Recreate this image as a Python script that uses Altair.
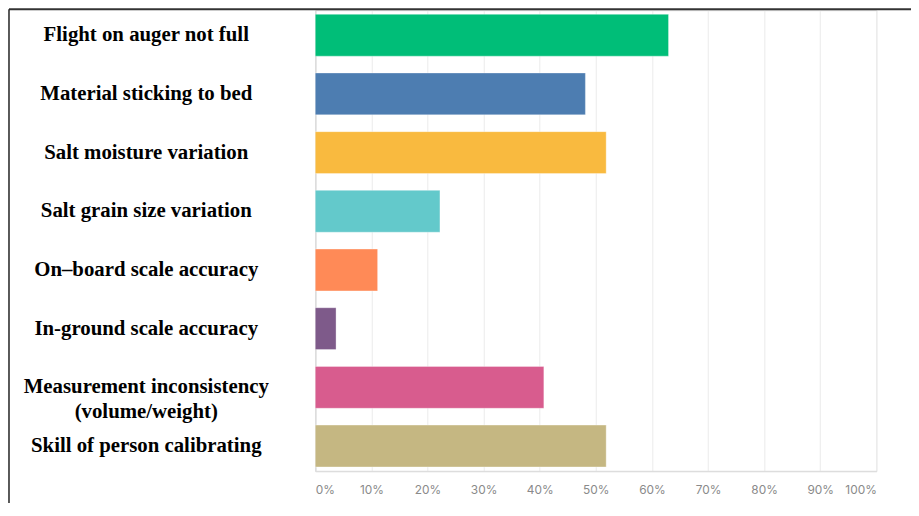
import altair as alt
import pandas as pd

categories = [
    "Flight on auger not full",
    "Material sticking to bed",
    "Salt moisture variation",
    "Salt grain size variation",
    "On\u2013board scale accuracy",
    "In-ground scale accuracy",
    "Measurement inconsistency\n(volume/weight)",
    "Skill of person calibrating",
]
shares = [17/27, 13/27, 14/27, 6/27, 3/27, 1/27, 11/27, 14/27]
colors = ["#00BE78", "#4D7DB1", "#F9BA3F", "#63C9CB", "#FF8A57", "#7E5A8A", "#D85C8E", "#C5B782"]
ticks = [0, 0.1, 0.2, 0.3, 0.4, 0.5, 0.6, 0.7, 0.8, 0.9, 1.0]

df = pd.DataFrame({"cat": categories, "share": shares})

bars = alt.Chart(df).mark_bar(strokeWidth=1, strokeOpacity=0.35, stroke="white").encode(
    y=alt.Y("cat:N", sort=categories,
            scale=alt.Scale(paddingInner=0.286, paddingOuter=0.07),
            axis=alt.Axis(title=None, ticks=False, tickSize=0, labelPadding=171,
                          labelAlign="center", labelBaseline="middle",
                          labelFont="Liberation Serif", labelFontWeight="bold",
                          labelFontSize=21, labelColor="#000000", labelLimit=400,
                          labelLineHeight=25,
                          labelExpr="split(datum.value, '\\n')",
                          domainColor="#dddddd", domainWidth=1.5, grid=False)),
    x=alt.X("share:Q", scale=alt.Scale(domain=[0, 1], nice=False),
            axis=alt.Axis(title=None, values=ticks, format=".0%", ticks=False,
                          labelPadding=14, labelFont="Inter", labelFontSize=12,
                          labelColor="#8a8a8a", labelFlush=True,
                          domainColor="#dddddd", domainWidth=1.5,
                          gridColor="#eeeeee", gridWidth=1.2)),
    color=alt.Color("cat:N", sort=categories,
                    scale=alt.Scale(domain=categories, range=colors), legend=None),
)

frame_df = pd.DataFrame({"a": [0]})
top_border = alt.Chart(frame_df).mark_rule(color="#333333", strokeWidth=2).encode(
    x=alt.value(-309), x2=alt.value(640), y=alt.value(-1)
)
left_border = alt.Chart(frame_df).mark_rule(color="#222222", strokeWidth=1.5).encode(
    x=alt.value(-309), y=alt.value(-1), y2=alt.value(520)
)

chart = alt.layer(bars, top_border, left_border).properties(
    width=566, height=465,
    autosize=alt.AutoSizeParams(type="none"),
    padding={"left": 310, "top": 0, "right": 35, "bottom": 30},
).configure_view(stroke=None).configure(background="white")

chart.save("out.html", embed_options={"renderer": "svg", "actions": False})
